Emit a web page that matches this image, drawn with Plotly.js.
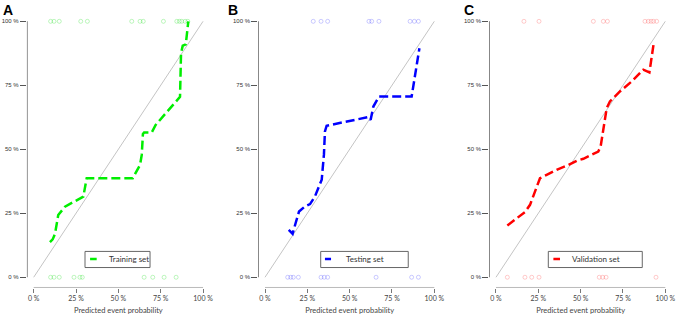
<!DOCTYPE html>
<html>
<head>
<meta charset="utf-8">
<script src="https://cdn.plot.ly/plotly-3.0.1.min.js"></script>
<style>html,body{margin:0;padding:0;background:#fff;}#chart{width:676px;height:315px;}</style>
</head>
<body>
<div id="chart"></div>
<script>
// ---- Data ----
const tickVals = [0, 0.25, 0.5, 0.75, 1];
const tickLabels = ["0 %", "25 %", "50 %", "75 %", "100 %"];
const panelLetters = ["A", "B", "C"];
const setNames = ["Training set", "Testing set", "Validation set"];

// Panel A: training set calibration curve
const trainX = [0.096, 0.112, 0.126, 0.145, 0.185, 0.293, 0.313, 0.585, 0.628, 0.638, 0.645, 0.652, 0.697, 0.720, 0.864, 0.870, 0.880, 0.898, 0.913];
const trainY = [0.137, 0.148, 0.170, 0.243, 0.276, 0.315, 0.387, 0.387, 0.439, 0.478, 0.560, 0.566, 0.566, 0.595, 0.705, 0.875, 0.905, 0.910, 1.000];
const trainEvents = [0.100, 0.120, 0.151, 0.278, 0.317, 0.579, 0.628, 0.647, 0.766, 0.845, 0.860, 0.874, 0.894, 0.910];
const trainNonEvents = [0.100, 0.120, 0.151, 0.238, 0.273, 0.287, 0.652, 0.703, 0.770, 0.841];

// Panel B: testing set
const testX = [0.140, 0.163, 0.181, 0.201, 0.236, 0.266, 0.295, 0.335, 0.348, 0.354, 0.364, 0.610, 0.624, 0.640, 0.673, 0.866, 0.912];
const testY = [0.185, 0.170, 0.212, 0.257, 0.277, 0.286, 0.316, 0.381, 0.479, 0.570, 0.592, 0.626, 0.615, 0.667, 0.706, 0.706, 0.895];
const testEvents = [0.285, 0.331, 0.370, 0.614, 0.630, 0.673, 0.857, 0.882, 0.906];
const testNonEvents = [0.134, 0.152, 0.167, 0.197, 0.331, 0.350, 0.370, 0.656, 0.866, 0.906];

// Panel C: validation set
const validX = [0.067, 0.122, 0.171, 0.201, 0.230, 0.260, 0.299, 0.358, 0.428, 0.477, 0.516, 0.565, 0.604, 0.618, 0.638, 0.654, 0.673, 0.732, 0.801, 0.870, 0.906, 0.933];
const validY = [0.202, 0.231, 0.255, 0.283, 0.335, 0.387, 0.400, 0.420, 0.439, 0.455, 0.463, 0.479, 0.491, 0.511, 0.589, 0.661, 0.687, 0.726, 0.765, 0.811, 0.800, 0.921];
const validEvents = [0.165, 0.254, 0.575, 0.634, 0.658, 0.880, 0.900, 0.916, 0.930, 0.949];
const validNonEvents = [0.067, 0.171, 0.211, 0.254, 0.610, 0.630, 0.650, 0.945];

const diagX = [0, 1];
const diagY = [0, 1];

// ---- Styling ----
const lineColors = ["#00ee00", "#0000ff", "#ff0000"];
const rugColors = ["rgba(0,220,0,0.25)", "rgba(0,0,255,0.2)", "rgba(255,0,0,0.2)"];
const xDomains = [[0.0398, 0.3104], [0.3820, 0.6525], [0.7237, 0.9942]];
const yDomain = [0.0873, 0.9648];
const legendBox = [[0.303, 0.687], [0.329, 0.846], [0.309, 0.864]];
const legendLine = [[0.333, 0.372], [0.354, 0.390], [0.339, 0.378]];
const legendTextX = [0.431, 0.467, 0.437];

const panels = [
  {x: trainX, y: trainY, ev: trainEvents, nev: trainNonEvents},
  {x: testX, y: testY, ev: testEvents, nev: testNonEvents},
  {x: validX, y: validY, ev: validEvents, nev: validNonEvents}
];

const traces = [];
const shapes = [];
const annotations = [];
const layout = {
  width: 676, height: 315,
  margin: {l: 0, r: 0, t: 0, b: 0},
  paper_bgcolor: "#fff", plot_bgcolor: "#fff",
  showlegend: false,
  font: {family: "Liberation Sans, Arial, sans-serif", color: "#333"}
};

panels.forEach((p, i) => {
  const sfx = i === 0 ? "" : String(i + 1);
  const xa = "x" + sfx, ya = "y" + sfx;
  // diagonal reference
  traces.push({x: diagX, y: diagY, xaxis: xa, yaxis: ya, mode: "lines",
    line: {color: "#c4c4c4", width: 1}, hoverinfo: "skip"});
  // rug of observations
  traces.push({x: p.ev, y: p.ev.map(() => 1), xaxis: xa, yaxis: ya, mode: "markers",
    marker: {symbol: "circle-open", size: 4, color: rugColors[i], line: {width: 1, color: rugColors[i]}}, hoverinfo: "x"});
  traces.push({x: p.nev, y: p.nev.map(() => 0), xaxis: xa, yaxis: ya, mode: "markers",
    marker: {symbol: "circle-open", size: 4, color: rugColors[i], line: {width: 1, color: rugColors[i]}}, hoverinfo: "x"});
  // calibration curve
  traces.push({x: p.x, y: p.y, xaxis: xa, yaxis: ya, mode: "lines", name: setNames[i],
    line: {color: lineColors[i], width: 2.5, dash: "9px,4px"}});

  layout["xaxis" + sfx] = {
    domain: xDomains[i], range: [-0.04, 1.04], anchor: ya,
    showgrid: false, zeroline: false, showline: false,
    tickmode: "array", tickvals: tickVals, ticktext: tickLabels,
    ticks: "outside", ticklen: 4, tickcolor: "#777", tickwidth: 1,
    tickfont: {family: "Lato, sans-serif", size: 7, color: "#444"},
    title: {text: "Predicted event probability", standoff: 6,
      font: {family: "Lato, sans-serif", size: 7.5, color: "#444"}}
  };
  layout["yaxis" + sfx] = {
    domain: yDomain, range: [-0.04, 1.04], anchor: xa,
    showgrid: false, zeroline: false, showline: false,
    tickmode: "array", tickvals: tickVals, ticktext: tickLabels,
    ticks: "outside", ticklen: 6, tickcolor: "#555", tickwidth: 1,
    tickfont: {family: "Liberation Sans, Arial, sans-serif", size: 6, color: "#333"}
  };
  // axis lines spanning 0..1 only (R style)
  shapes.push({type: "line", xref: xa, yref: ya, x0: -0.04, x1: -0.04, y0: 0, y1: 1,
    line: {color: "#444", width: 1.2}});
  shapes.push({type: "line", xref: xa, yref: ya, x0: 0, x1: 1, y0: -0.04, y1: -0.04,
    line: {color: "#777", width: 1}});
  // legend box
  shapes.push({type: "rect", xref: xa, yref: ya, x0: legendBox[i][0], x1: legendBox[i][1], y0: 0.038, y1: 0.101,
    line: {color: "#666", width: 1}, fillcolor: "rgba(0,0,0,0)"});
  shapes.push({type: "line", xref: xa, yref: ya, x0: legendLine[i][0], x1: legendLine[i][1], y0: 0.071, y1: 0.071,
    line: {color: lineColors[i], width: 2.5}});
  annotations.push({xref: xa, yref: ya, x: legendTextX[i], y: 0.071, text: setNames[i],
    showarrow: false, xanchor: "left", yanchor: "middle",
    font: {family: "Lato, sans-serif", size: 8, color: "#333"}});
  // panel letter
  annotations.push({xref: "paper", yref: "paper", x: [0.002, 0.335, 0.683][i], y: 1.0,
    text: "<b>" + panelLetters[i] + "</b>", showarrow: false, xanchor: "left", yanchor: "top",
    font: {family: "Liberation Sans, Arial, sans-serif", size: 14, color: "#000"}});
});

layout.shapes = shapes;
layout.annotations = annotations;

Plotly.newPlot("chart", traces, layout, {displayModeBar: false, staticPlot: true});
</script>
</body>
</html>
